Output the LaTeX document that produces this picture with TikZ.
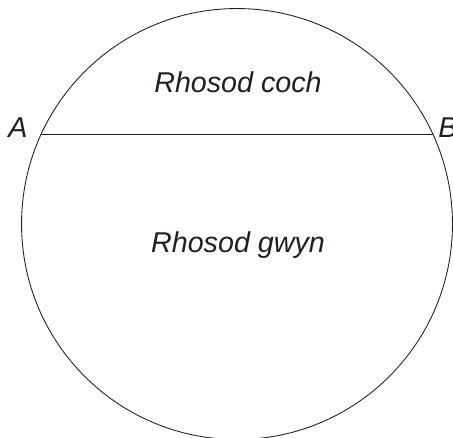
\documentclass[tikz,border=0pt]{standalone}
\usepackage{fontspec}
\setmainfont{Liberation Sans}
\definecolor{ink}{HTML}{231F20}
\begin{document}
\begin{tikzpicture}[x=0.75pt,y=-0.75pt,
  lbl/.style={inner sep=0pt,text=ink,font=\fontsize{21.5}{25}\selectfont\itshape},
  edge/.style={draw=ink,line width=0.65pt}]
\useasboundingbox (0,0) rectangle (453,437);
\clip (0,0) rectangle (453,437);
\coordinate (O) at (237,224);
\draw[edge] (O) circle[radius=161.6pt];
\coordinate (A) at (41.2,134);
\coordinate (B) at (432.8,134);
\draw[edge] (A) -- (B);
\node[lbl,anchor=base west] (la) at (8,137) {A};
\node[lbl,anchor=base west] (lb) at (438,137) {B};
\node[lbl,anchor=base] (red) at (238,92) {Rhosod coch};
\node[lbl,anchor=base] (white) at (238,252) {Rhosod gwyn};
\end{tikzpicture}
\end{document}
